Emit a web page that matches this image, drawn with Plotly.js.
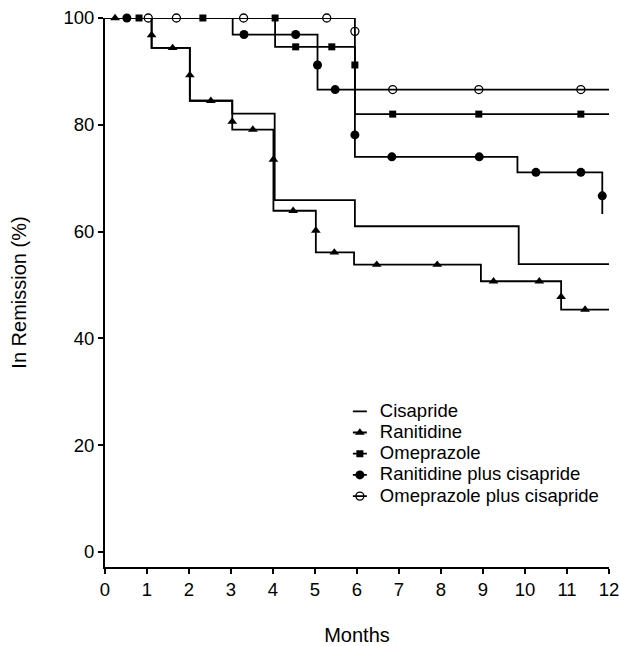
<!DOCTYPE html>
<html>
<head>
<meta charset="utf-8">
<script src="https://cdn.plot.ly/plotly-3.0.1.min.js"></script>
<style>html,body{margin:0;padding:0;background:#fff;}#chart{width:619px;height:646px;}</style>
</head>
<body>
<div id="chart"></div>
<script>
// ---- Data ----
// Cisapride (no censor marks)
var cisTime = [0, 1.11, 2.02, 3.03, 4.04, 5.95, 9.85, 12];
var cisSurv = [100, 94.4, 84.5, 82.1, 65.9, 61.0, 53.9, 53.9];

// Ranitidine
var ranTime = [0, 1.11, 2.02, 3.03, 4.01, 5.02, 5.93, 8.95, 10.86, 12];
var ranSurv = [100, 94.4, 84.5, 79.1, 63.9, 56.1, 53.8, 50.7, 45.4, 45.4];
var ranCensTime = [0.24, 1.11, 1.61, 2.02, 2.52, 3.03, 3.52, 4.01, 4.48, 5.02, 5.46, 6.47, 7.91, 9.25, 10.34, 10.86, 11.43];
var ranCensSurv = [100, 96.8, 94.4, 89.3, 84.5, 80.6, 79.1, 73.5, 63.9, 60.2, 56.1, 53.8, 53.8, 50.7, 50.7, 47.8, 45.4];

// Omeprazole
var omeTime = [0, 4.05, 5.95, 12];
var omeSurv = [100, 94.6, 82.0, 82.0];
var omeCensTime = [0.81, 2.33, 4.05, 4.54, 5.40, 5.95, 6.85, 8.90, 11.33];
var omeCensSurv = [100, 100, 100, 94.6, 94.6, 91.2, 82.0, 82.0, 82.0];

// Ranitidine plus cisapride
var rcTime = [0, 3.04, 5.06, 5.95, 9.82, 11.84];
var rcSurv = [100, 96.9, 86.6, 74.0, 71.1, 63.3];
var rcCensTime = [0.52, 3.31, 4.54, 5.06, 5.48, 5.95, 6.83, 8.91, 10.26, 11.33, 11.84];
var rcCensSurv = [100, 96.9, 96.9, 91.2, 86.6, 78.1, 74.0, 74.0, 71.1, 71.1, 66.7];

// Omeprazole plus cisapride
var ocTime = [0, 5.95, 12];
var ocSurv = [100, 86.6, 86.6];
var ocCensTime = [1.03, 1.70, 3.30, 5.28, 5.95, 6.85, 8.90, 11.33];
var ocCensSurv = [100, 100, 100, 100, 97.5, 86.6, 86.6, 86.6];

var groupNames = ['Cisapride', 'Ranitidine', 'Omeprazole', 'Ranitidine plus cisapride', 'Omeprazole plus cisapride'];
var xTicks = [0,1,2,3,4,5,6,7,8,9,10,11,12];
var yTicks = [0,20,40,60,80,100];

// ---- helpers ----
function gapped(arr){ var out=[]; arr.forEach(function(v,i){ if(i>0) out.push(null); out.push(v); }); return out; }
function lbl(s){ return '<span style="font-size:18.5px">' + s + '</span>'; }
var LW = 1.8;
function stepTrace(t, s, name, show){
  return {x:t, y:s, type:'scatter', mode:'lines', line:{shape:'hv', color:'#000', width:LW},
          name:lbl(name), showlegend:show, cliponaxis:false, hoverinfo:'x+y'};
}
function censTrace(t, s, name, marker){
  return {x:gapped(t), y:gapped(s), type:'scatter', mode:'lines+markers', connectgaps:false,
          line:{color:'#000', width:LW}, marker:marker, name:lbl(name), cliponaxis:false, hoverinfo:'x+y'};
}

var traces = [
  stepTrace(cisTime, cisSurv, groupNames[0], true),
  stepTrace(ranTime, ranSurv, groupNames[1], false),
  censTrace(ranCensTime, ranCensSurv, groupNames[1], {symbol:'triangle-up', size:8.5, color:'#000', line:{width:0}}),
  stepTrace(omeTime, omeSurv, groupNames[2], false),
  censTrace(omeCensTime, omeCensSurv, groupNames[2], {symbol:'square', size:7, color:'#000', line:{width:0}}),
  stepTrace(rcTime, rcSurv, groupNames[3], false),
  censTrace(rcCensTime, rcCensSurv, groupNames[3], {symbol:'circle', size:9, color:'#000', line:{width:0}}),
  stepTrace(ocTime, ocSurv, groupNames[4], false),
  censTrace(ocCensTime, ocCensSurv, groupNames[4], {symbol:'circle-open', size:8, color:'#000', line:{color:'#000', width:1.3}})
];

var FONT = 'Liberation Sans, Arial, Helvetica, sans-serif';
var layout = {
  width:619, height:646,
  margin:{l:105, r:10, t:18, b:79},
  paper_bgcolor:'#fff', plot_bgcolor:'#fff',
  font:{family:FONT, color:'#000'},
  showlegend:true,
  legend:{x:0.466, y:0.312, xanchor:'left', yanchor:'top', bgcolor:'rgba(0,0,0,0)',
          font:{family:FONT, size:14, color:'#000'}, itemwidth:30, traceorder:'normal'},
  xaxis:{range:[0,12], tickvals:xTicks, ticktext:xTicks.map(String), ticks:'outside', ticklen:5, tickwidth:1.5,
         tickcolor:'#000', showline:true, linecolor:'#000', linewidth:2, showgrid:false, zeroline:false,
         ticklabeloverflow:'allow', automargin:false,
         tickfont:{size:18.5, family:FONT}, title:{text:'Months', standoff:30, font:{size:20, family:FONT}}},
  yaxis:{range:[-2.81,100], tickvals:yTicks, ticktext:yTicks.map(String), ticks:'outside', ticklen:5, tickwidth:1.5,
         tickcolor:'#000', showline:true, linecolor:'#000', linewidth:2, showgrid:false, zeroline:false,
         automargin:false,
         tickfont:{size:18.5, family:FONT}, title:{text:'In Remission (%)', standoff:31, font:{size:20, family:FONT}}}
};

var gd = document.getElementById('chart');
function shortenLegendLines(){
  // draw the legend line samples as short strokes through the symbols, as in the reference
  var paths = gd.querySelectorAll('.legend .legendlines path');
  paths.forEach(function(p){ p.setAttribute('d', 'M13,0h14'); });
}
Plotly.newPlot(gd, traces, layout, {displayModeBar:false}).then(function(){
  shortenLegendLines();
  gd.on('plotly_afterplot', shortenLegendLines);
});
</script>
</body>
</html>
